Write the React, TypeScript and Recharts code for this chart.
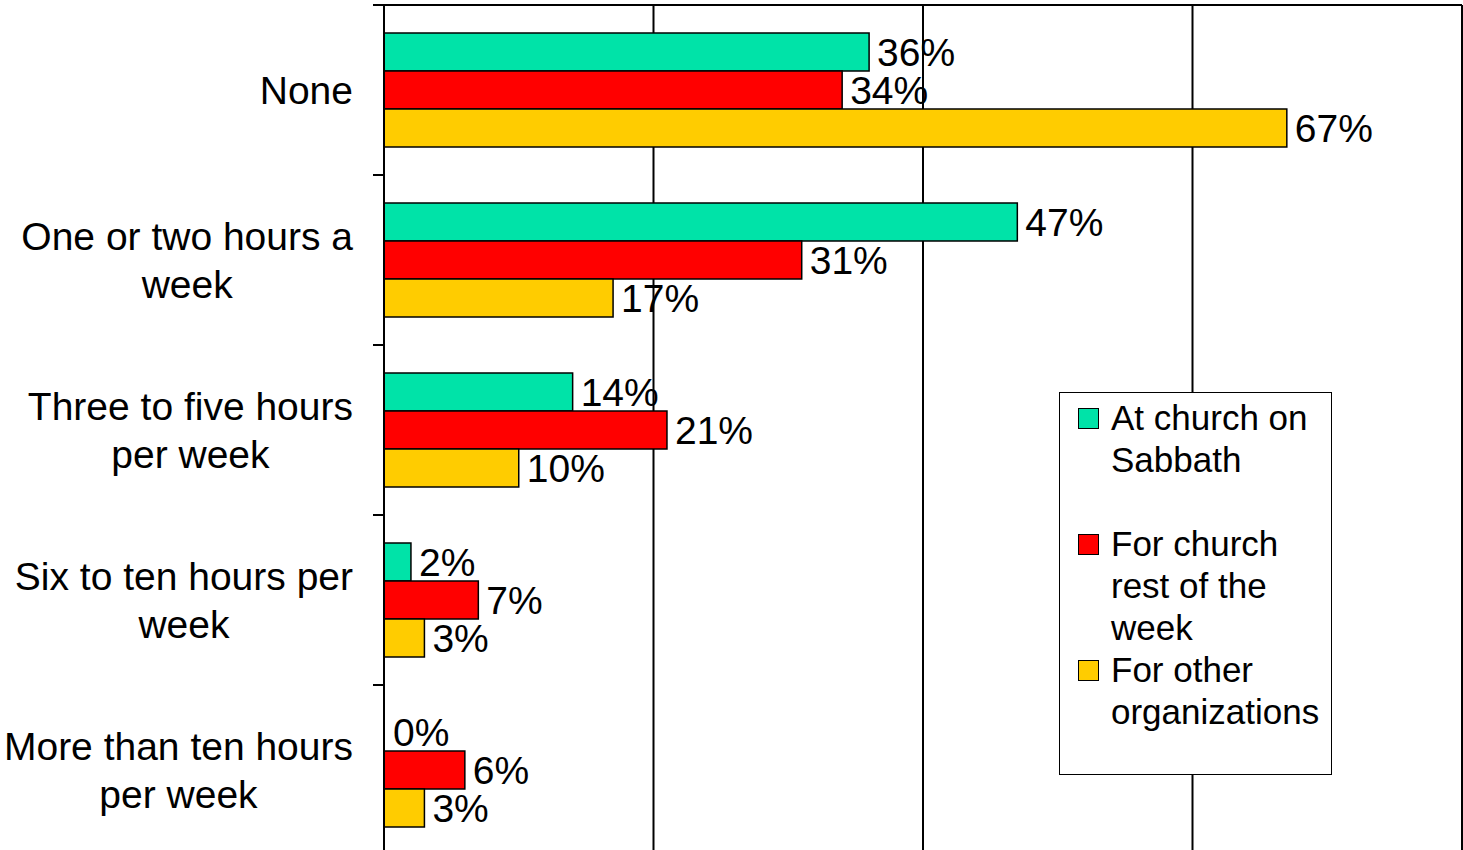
import React from 'react';
import { BarChart, Bar, XAxis, YAxis, CartesianGrid, LabelList, Rectangle } from 'recharts';

const categoryLines = [
  ['None'],
  ['One or two hours a', 'week'],
  ['Three to five hours', 'per week'],
  ['Six to ten hours per', 'week'],
  ['More than ten hours', 'per week'],
];
const categories = categoryLines.map((l) => l.join(' '));

const sabbath = [36, 47, 14, 2, 0];
const restOfWeek = [34, 31, 21, 7, 6];
const otherOrgs = [67, 17, 10, 3, 3];

const xTicks = [0, 20, 40, 60, 80];

const seriesNames = ['At church on Sabbath', 'For church rest of the week', 'For other organizations'];
const legendLines = [['At church on', 'Sabbath', ''], ['For church', 'rest of the', 'week'], ['For other', 'organizations']];
const colors = ['#00E3A8', '#FF0000', '#FFCC00'];

const data = categories.map((name, i) => ({
  name,
  sabbath: sabbath[i],
  rest: restOfWeek[i],
  other: otherOrgs[i],
}));

const FONT = '"Liberation Sans", Arial, sans-serif';
const W = 1463;
const H = 862;
const MARGIN = { top: 5, right: 1, bottom: 7, left: 0 };
const bandH = (H - MARGIN.top - MARGIN.bottom) / categories.length;

let ctx: CanvasRenderingContext2D | null = null;
const measure = (s: string, size: number) => {
  if (!ctx) ctx = document.createElement('canvas').getContext('2d');
  if (!ctx) return s.length * size * 0.5;
  ctx.font = `${size}px ${FONT}`;
  return ctx.measureText(s).width;
};

const CategoryTick = (props: any) => {
  const { x, y, index } = props;
  const lines = categoryLines[index] || [];
  const size = 39;
  const lh = 48;
  const right = x - 31;
  const blockW = Math.max(...lines.map((l) => measure(l, size)));
  const cx = right - blockW / 2;
  const y0 = y - ((lines.length - 1) * lh) / 2;
  return (
    <g>
      <line x1={x - 11} x2={x} y1={y - bandH / 2} y2={y - bandH / 2} stroke="#000" strokeWidth={2} />
      {index === categories.length - 1 && (
        <line x1={x - 11} x2={x} y1={y + bandH / 2} y2={y + bandH / 2} stroke="#000" strokeWidth={2} />
      )}
      {lines.map((l, i) => (
        <text key={i} x={cx} y={y0 + i * lh} textAnchor="middle" dominantBaseline="central"
          fontSize={size} fontFamily={FONT} fill="#000">
          {l}
        </text>
      ))}
    </g>
  );
};

// zero values keep a 1px slot so the label still shows, but draw no bar
const BarShape = (props: any) => (props.value === 0 || (Array.isArray(props.value) && props.value[1] === 0)
  ? <g />
  : <Rectangle {...props} />);

const LegendBox = () => (
  <div style={{ position: 'absolute', left: 1059, top: 392, border: '1.5px solid #000', background: '#fff',
    width: 271, height: 377, paddingTop: 4, fontFamily: FONT, fontSize: 35, color: '#000' }}>
    {seriesNames.map((n, i) => (
      <div key={n} style={{ position: 'relative', paddingLeft: 51, lineHeight: '42px' }}>
        <div style={{ position: 'absolute', left: 18, top: 11, width: 19, height: 19, background: colors[i],
          border: '1.5px solid #000' }} />
        {legendLines[i].map((l, j) => (
          <div key={j} style={{ height: 42, whiteSpace: 'nowrap' }}>{l}</div>
        ))}
      </div>
    ))}
  </div>
);

const labelStyle = { fontSize: 39, fontFamily: FONT, fill: '#000' };
const fmt = (v: any) => `${v}%`;

export default function App() {
  return (
    <div style={{ position: 'absolute', left: 0, top: 0, width: W, height: 850, overflow: 'hidden', background: '#fff' }}>
      <BarChart width={W} height={H} data={data} layout="vertical" margin={MARGIN} barGap={0} barSize={38}>
        <CartesianGrid
          stroke="#000"
          strokeWidth={2}
          horizontal={true}
          vertical={true}
          horizontalCoordinatesGenerator={({ offset }: any) => [offset.top]}
          verticalCoordinatesGenerator={({ offset }: any) =>
            xTicks.map((t) => offset.left + (t / 80) * offset.width)}
        />
        <XAxis type="number" domain={[0, 80]} ticks={xTicks} hide />
        <YAxis
          type="category"
          dataKey="name"
          width={384}
          axisLine={{ stroke: '#000', strokeWidth: 2 }}
          tickLine={false}
          tickSize={0}
          tickMargin={0}
          interval={0}
          tick={<CategoryTick />}
        />
        <Bar dataKey="sabbath" name={seriesNames[0]} fill={colors[0]} stroke="#000" strokeWidth={1.5}
          minPointSize={1} shape={<BarShape />} isAnimationActive={false}>
          <LabelList dataKey="sabbath" position="right" offset={8} formatter={fmt} style={labelStyle} />
        </Bar>
        <Bar dataKey="rest" name={seriesNames[1]} fill={colors[1]} stroke="#000" strokeWidth={1.5} isAnimationActive={false}>
          <LabelList dataKey="rest" position="right" offset={8} formatter={fmt} style={labelStyle} />
        </Bar>
        <Bar dataKey="other" name={seriesNames[2]} fill={colors[2]} stroke="#000" strokeWidth={1.5} isAnimationActive={false}>
          <LabelList dataKey="other" position="right" offset={8} formatter={fmt} style={labelStyle} />
        </Bar>
      </BarChart>
      <LegendBox />
    </div>
  );
}
